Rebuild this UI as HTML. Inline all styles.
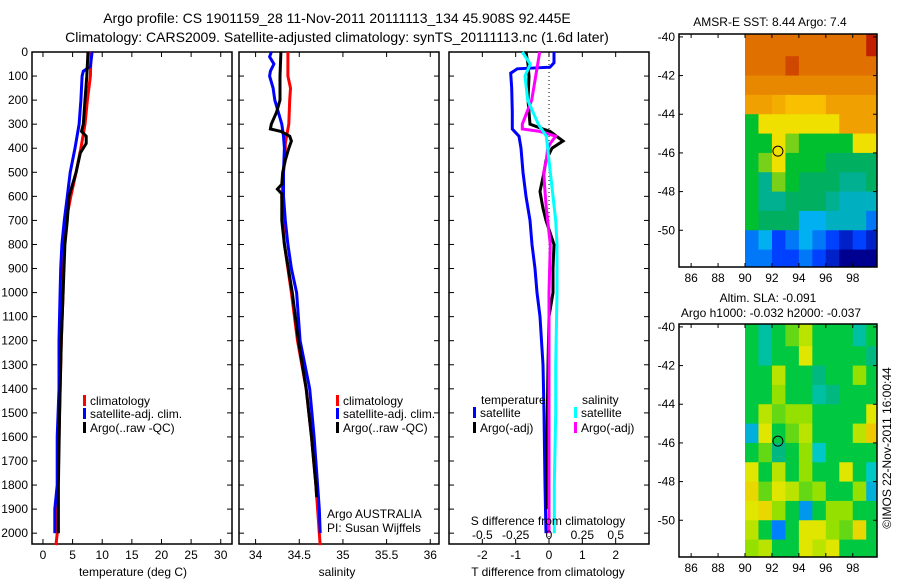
<!DOCTYPE html>
<html><head><meta charset="utf-8"><style>
html,body{margin:0;padding:0;background:#fff;}
svg{display:block;font-family:"Liberation Sans",sans-serif;}
</style></head><body>
<svg id="c" width="900" height="580" viewBox="0 0 900 580">
<text x="337" y="23" font-size="14" text-anchor="middle">Argo profile: CS 1901159_28 11-Nov-2011 20111113_134 45.908S 92.445E</text>
<text x="337" y="42" font-size="14" text-anchor="middle">Climatology: CARS2009. Satellite-adjusted climatology: synTS_20111113.nc (1.6d later)</text>
<text x="770" y="26" font-size="12" text-anchor="middle">AMSR-E SST: 8.44 Argo: 7.4</text>
<text x="768" y="302" font-size="12" text-anchor="middle">Altim. SLA: -0.091</text>
<text x="771" y="317" font-size="12" text-anchor="middle">Argo h1000: -0.032 h2000: -0.037</text>
<text x="0" y="0" font-size="12" text-anchor="middle" transform="translate(891,448) rotate(-90)">©IMOS 22-Nov-2011 16:00:44</text>
<text x="327" y="518" font-size="12">Argo AUSTRALIA</text>
<text x="327" y="532" font-size="12">PI: Susan Wijffels</text>
</svg>
<script>
// ---------- data ----------
const depthTicks=[0,100,200,300,400,500,600,700,800,900,1000,1100,1200,1300,1400,1500,1600,1700,1800,1900,2000];
const tempTicks=[0,5,10,15,20,25,30];
const salTicks=[34,34.5,35,35.5,36];
const tdiffTicks=[-2,-1,0,1,2];
const sdiffTicks=[-0.5,-0.25,0,0.25,0.5];
const sdiffTickLabels=["-0.5","-0.25","0","0.25","0.5"];

const tClimD=[0,100,200,300,400,500,600,700,800,900,1000,1200,1400,1600,1800,2000,2050];
const tClimV=[8.1,8.0,7.5,7.1,6.4,5.6,4.7,3.9,3.6,3.4,3.4,3.1,2.9,2.7,2.5,2.4,2.2];
const tSatD=[0,60,80,100,200,300,400,500,600,700,800,900,1000,1200,1400,1600,1800,1900,2000];
const tSatV=[8.3,8.0,6.8,6.6,6.4,6.1,5.4,4.6,4.1,3.6,3.2,3.0,2.9,2.7,2.7,2.4,2.4,2.0,2.0];
const tArgoD=[0,100,200,300,330,350,380,420,500,600,700,800,1000,1200,1500,1800,2000];
const tArgoV=[7.6,7.4,7.1,6.8,6.5,7.3,7.3,6.3,5.6,4.4,4.1,3.7,3.4,3.1,2.8,2.6,2.6];

const sClimD=[0,100,150,200,300,380,400,500,600,700,800,1000,1200,1400,1600,1800,2000,2050];
const sClimV=[34.37,34.37,34.40,34.39,34.38,34.34,34.34,34.32,34.30,34.31,34.33,34.41,34.48,34.58,34.64,34.69,34.73,34.74];
const sSatD=[0,20,50,80,100,150,200,300,350,400,500,600,700,800,900,1000,1200,1400,1600,1800,1900,2000];
const sSatV=[34.18,34.16,34.21,34.17,34.16,34.20,34.22,34.30,34.32,34.33,34.32,34.32,34.34,34.37,34.41,34.47,34.51,34.62,34.67,34.71,34.73,34.74];
const sArgoD=[0,100,200,250,300,320,330,350,370,400,450,500,550,570,590,700,800,1000,1200,1400,1600,1800,1850];
const sArgoV=[34.29,34.28,34.28,34.24,34.18,34.17,34.29,34.39,34.41,34.38,34.34,34.31,34.30,34.25,34.30,34.30,34.33,34.42,34.49,34.58,34.64,34.69,34.70];

const dTSatD=[0,45,63,70,88,150,250,320,350,400,500,600,700,800,900,1000,1100,1300,1500,1800,2000];
const dTSatV=[0.15,0.15,0.03,-0.95,-1.15,-1.12,-1.1,-1.1,-0.9,-0.84,-0.78,-0.69,-0.57,-0.51,-0.42,-0.36,-0.27,-0.18,-0.15,-0.12,-0.09];
const dTArgoD=[0,50,100,200,300,320,330,370,400,450,500,580,650,700,800,900,1000,1100,1300,1600,1900];
const dTArgoV=[-0.69,-0.63,-0.6,-0.63,-0.57,-0.18,0.03,0.42,0.09,-0.09,-0.15,-0.27,-0.18,-0.09,0.15,0.12,0.12,0.0,-0.03,-0.06,-0.06];
const dSArgoD=[0,100,200,300,320,330,350,380,400,450,500,580,650,800,1000,1300,1600,2000];
const dSArgoV=[-0.07,-0.10,-0.13,-0.20,-0.20,-0.07,0.05,0.01,-0.01,-0.02,-0.04,-0.03,-0.02,0.01,0.0,0.0,0.0,0.0];
const dSSatD=[0,50,100,200,300,350,400,500,600,700,800,1000,1300,1500,1800,2000];
const dSSatV=[-0.20,-0.14,-0.18,-0.16,-0.08,-0.02,-0.01,0.01,0.03,0.05,0.06,0.06,0.05,0.05,0.04,0.04];

const mapLonTicks=[86,88,90,92,94,96,98];
const mapLatTicks=[-40,-42,-44,-46,-48,-50];
const sstGrid=[
[8,8,8,8,8,8,8,8,8,9],
[8,8,8,8.5,8,8,8,8,8,8],
[7.5,7.5,7.5,7.5,7.5,7.5,7.5,7.5,7.5,7.5],
[7,7,6.8,6.5,6.5,6.5,7,7,7,7],
[5,6,6,6,6,6,6,7,7,7],
[5,5,6,5.5,5,5,5,5,6,6],
[5,5.5,6,5,5,5,4.5,4.5,4.5,4.5],
[5,4,5.5,5,4.5,4.5,4.5,4,4,4.5],
[5,4,4,4.5,4.5,4.5,4,3.5,3.5,3.5],
[5,4.5,4.5,4.5,3,3,3.5,3.5,3.5,2.5],
[2.5,3,2,2.5,3,2.5,2,1.5,2,1.5],
[2.5,2.5,2,2,2.5,2,1.5,1,1,1]];
const slaGrid=[
[0,-0.3,0,0.2,0.4,0,0,0,-0.3,0],
[0,-0.3,0,0,0.5,0,0,0,0,-0.2],
[0,0,0.4,0,0,-0.2,0,0,0.3,0],
[0,0,0.3,0,0,-0.3,-0.2,0,0,0],
[0,0.4,0.2,0.3,0.3,0,0,0,0,0.5],
[-0.5,0.5,0,0.2,0.4,0,0,0,0.4,0.7],
[0,0.2,-0.2,0,0.3,-0.4,0,0,0,0],
[0.5,0,0.4,0,0.3,0,0,0.5,0,-0.4],
[0.6,0.2,0.5,0.4,0.2,0.3,0,0,0.3,-0.5],
[0.5,0.6,0.3,0,-0.6,0,0.3,0.3,0,0],
[0.4,0,-0.7,0,0.5,0.5,0.3,0.2,0.6,0],
[0.3,0.4,0,0,0.5,0.4,0.5,0,0,0]];
const argoLon=92.445, argoLat=-45.908;

// ---------- helpers ----------
const NS="http://www.w3.org/2000/svg";
const svg=document.getElementById('c');
function el(t,a,p){const e=document.createElementNS(NS,t);for(const k in a)e.setAttribute(k,a[k]);(p||svg).appendChild(e);return e;}
const top0=52,bot=544,dMax=2045;
const yD=d=>top0+d*(bot-top0)/dMax;
function lin(d0,d1,r0,r1){return v=>r0+(v-d0)*(r1-r0)/(d1-d0);}
const xT=lin(-1.85,31.9,32,232);
const xS=lin(33.81,36.1,239,439);
const xTd=lin(-3,3,449,649);
const xSd=lin(-0.75,0.75,449,649);

function frame(l,r,name){
  const g=el('g',{});
  
  
  el('rect',{x:l,y:top0,width:r-l,height:bot-top0,fill:'none',stroke:'#000','stroke-width':1.5},g);
  return g;
}
function yTicks(g,l,r,labels){
  depthTicks.forEach(d=>{
    const y=yD(d);
    el('line',{x1:l,y1:y,x2:l+5,y2:y,stroke:'#000'},g);
    el('line',{x1:r,y1:y,x2:r-5,y2:y,stroke:'#000'},g);
    if(labels){const t=el('text',{x:l-4,y:y+4,'font-size':12,'text-anchor':'end'},g);t.textContent=d;
      
      }
  });
}
function xTicks(g,ticks,fx,fmt,ylab){
  ticks.forEach((v,i)=>{
    const x=fx(v);
    el('line',{x1:x,y1:bot,x2:x,y2:bot-5,stroke:'#000'},g);
    el('line',{x1:x,y1:top0,x2:x,y2:top0+5,stroke:'#000'},g);
    const t=el('text',{x:x,y:ylab,'font-size':12,'text-anchor':'middle'},g);t.textContent=fmt?fmt[i]:v;
    
    
  });
}
function line(g,D,V,fx,col,name){
  const pts=D.map((d,i)=>fx(V[i]).toFixed(1)+','+yD(d).toFixed(1)).join(' ');
  const p=el('polyline',{points:pts,fill:'none',stroke:col,'stroke-width':3,'stroke-linejoin':'miter'},g);
  
  
}
function legend(g,x,y,col,txt){
  el('rect',{x:x,y:y-10,width:3,height:11,fill:col},g);
  const t=el('text',{x:x+7,y:y,'font-size':12},g);t.textContent=txt;
  
  
}
function label(g,x,y,txt,name){
  const t=el('text',{x:x,y:y,'font-size':12,'text-anchor':'middle'},g);t.textContent=txt;
  
  
}

// ---------- panel 1: temperature ----------
let g=frame(32,232,'temperature-panel');
yTicks(g,32,232,true);
xTicks(g,tempTicks,xT,null,559);
line(g,tClimD,tClimV,xT,'#f00','temp-climatology-line');
line(g,tSatD,tSatV,xT,'#00f','temp-satellite-line');
line(g,tArgoD,tArgoV,xT,'#000','temp-argo-line');
legend(g,83,405,'#f00','climatology');
legend(g,83,418,'#00f','satellite-adj. clim.');
legend(g,83,432,'#000','Argo(..raw -QC)');
label(g,133,576,'temperature (deg C)','temperature-axis-title');

// ---------- panel 2: salinity ----------
g=frame(239,439,'salinity-panel');
yTicks(g,239,439,false);
xTicks(g,salTicks,xS,null,559);
line(g,sClimD,sClimV,xS,'#f00','sal-climatology-line');
line(g,sSatD,sSatV,xS,'#00f','sal-satellite-line');
line(g,sArgoD,sArgoV,xS,'#000','sal-argo-line');
legend(g,336,405,'#f00','climatology');
legend(g,336,418,'#00f','satellite-adj. clim.');
legend(g,336,432,'#000','Argo(..raw -QC)');
label(g,337,576,'salinity','salinity-axis-title');

// ---------- panel 3: differences ----------
g=frame(449,649,'difference-panel');
yTicks(g,449,649,false);
xTicks(g,tdiffTicks,xTd,null,559);
el('line',{x1:xTd(0),y1:top0,x2:xTd(0),y2:bot,stroke:'#000','stroke-dasharray':'1,3'},g);
line(g,dTSatD,dTSatV,xTd,'#00f','tdiff-satellite-line');
line(g,dTArgoD,dTArgoV,xTd,'#000','tdiff-argo-line');
line(g,dSArgoD,dSArgoV,xSd,'#f0f','sdiff-argo-line');
line(g,dSSatD,dSSatV,xSd,'#0ff','sdiff-satellite-line');
sdiffTicks.forEach((v,i)=>{const t=el('text',{x:xSd(v),y:539,'font-size':12,'text-anchor':'middle'},g);t.textContent=sdiffTickLabels[i];
  
  });
label(g,548,525,'S difference from climatology','s-diff-axis-title');
label(g,548,576,'T difference from climatology','t-diff-axis-title');
const tl=el('text',{x:481,y:404,'font-size':12},g);tl.textContent='temperature';


const sl=el('text',{x:582,y:404,'font-size':12},g);sl.textContent='salinity';


legend(g,473,417,'#00f','satellite');
legend(g,473,432,'#000','Argo(-adj)');
legend(g,574,417,'#0ff','satellite');
legend(g,574,432,'#f0f','Argo(-adj)');

// ---------- maps ----------
function ramp(s,v){
  if(v<=s[0][0])return 'rgb('+s[0][1]+')';
  for(let i=1;i<s.length;i++){if(v<=s[i][0]){const f=(v-s[i-1][0])/(s[i][0]-s[i-1][0]);const c=s[i-1][1].map((a,k)=>Math.round(a+f*(s[i][1][k]-a)));return 'rgb('+c+')';}}
  return 'rgb('+s[s.length-1][1]+')';
}
function sstColor(v){
  return ramp([[1,[0,0,144]],[2,[0,64,255]],[3,[0,176,240]],[4,[0,176,144]],[4.5,[0,176,96]],[5,[0,192,48]],[6,[240,224,0]],[6.5,[248,192,0]],[7,[240,160,0]],[8,[224,112,0]],[9,[192,32,0]]],v);
}
function slaColor(v){
  return ramp([[-0.7,[0,128,255]],[-0.4,[0,200,200]],[-0.2,[0,184,128]],[0,[0,200,64]],[0.3,[150,224,0]],[0.5,[224,230,0]],[0.7,[240,200,0]]],v);
}
function map(y0,grid,cfn,name){
  const l=679,r=877,b=y0+233;
  const xL=lin(85.1,99.8,l,r), yL=lin(-39.85,-51.9,y0,b);
  const g=el('g',{});
  
  
  grid.forEach((row,i)=>row.forEach((v,j)=>{
    const x1=xL(90+j),x2=xL(Math.min(91+j,99.8)),ya=yL(-40-i+(i==0?0.15:0)),yb=yL(Math.max(-41-i,-51.9));
    const c=el('rect',{x:x1,y:ya,width:x2-x1+0.5,height:yb-ya+0.5,fill:cfn(v)},g);
    
    
  }));
  el('rect',{x:l,y:y0,width:r-l,height:b-y0,fill:'none',stroke:'#000','stroke-width':1.5},g);
  mapLonTicks.forEach(v=>{const x=xL(v);
    el('line',{x1:x,y1:b,x2:x,y2:b-4,stroke:'#000'},g);el('line',{x1:x,y1:y0,x2:x,y2:y0+4,stroke:'#000'},g);
    const t=el('text',{x:x,y:b+15,'font-size':12,'text-anchor':'middle'},g);t.textContent=v;
    
    });
  mapLatTicks.forEach(v=>{const y=yL(v);
    el('line',{x1:l,y1:y,x2:l+4,y2:y,stroke:'#000'},g);el('line',{x1:r,y1:y,x2:r-4,y2:y,stroke:'#000'},g);
    const t=el('text',{x:l-4,y:y+4,'font-size':12,'text-anchor':'end'},g);t.textContent=v;
    
    });
  const m=el('circle',{cx:xL(argoLon),cy:yL(argoLat),r:5,fill:'none',stroke:'#000','stroke-width':1},g);
  
  
}
map(34,sstGrid,sstColor,'sst-map');
map(324,slaGrid,slaColor,'sla-map');
</script>
</body></html>
